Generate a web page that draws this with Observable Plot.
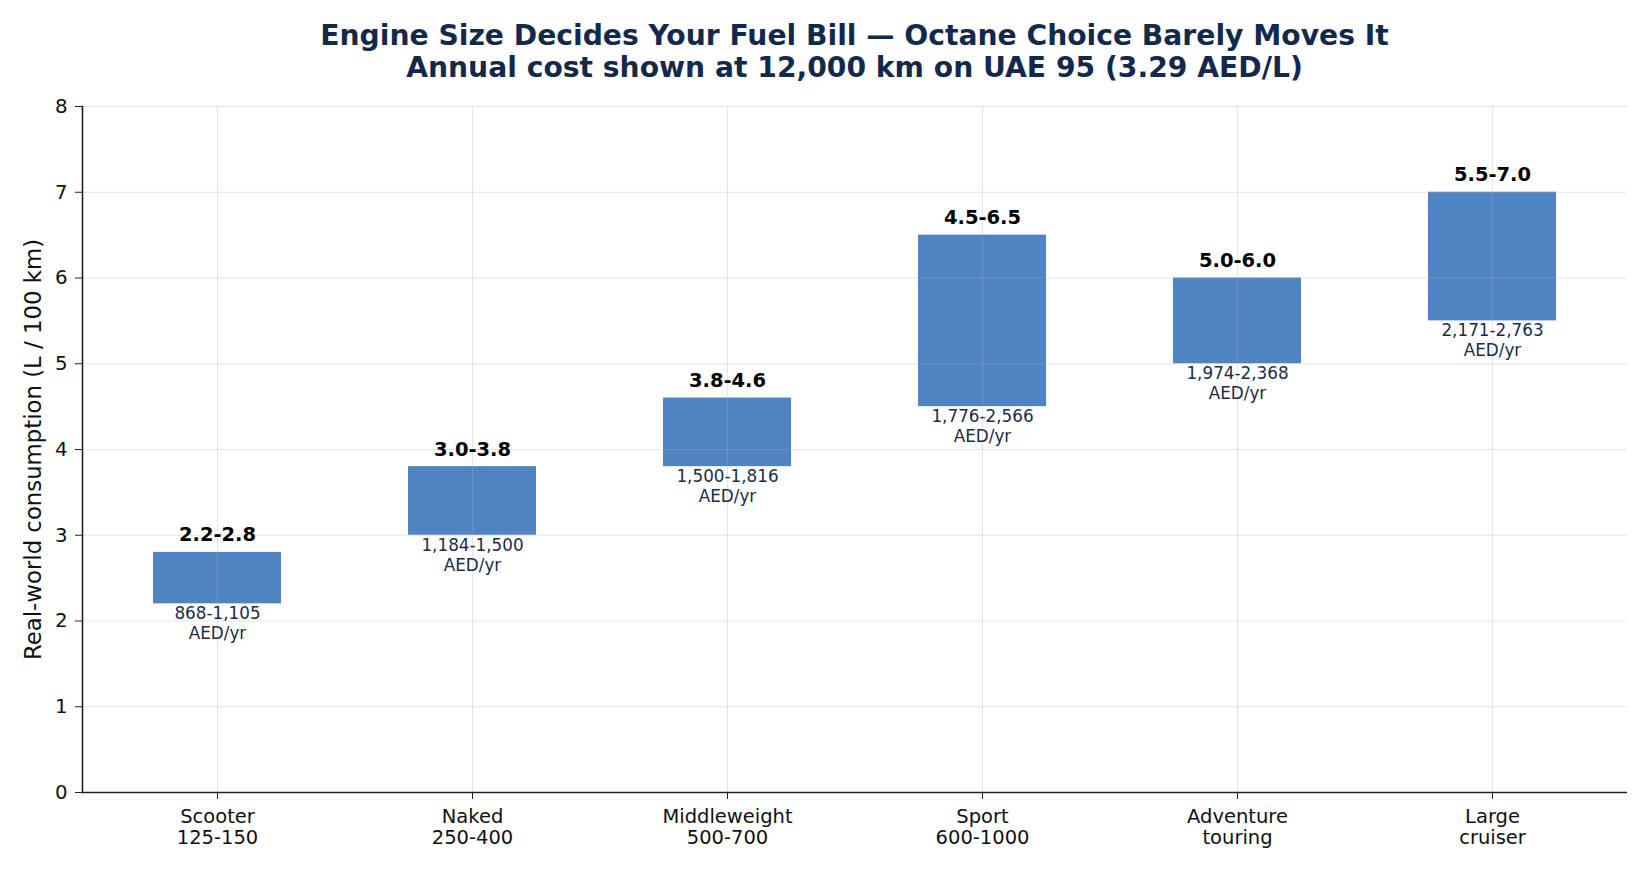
<!DOCTYPE html>
<html><head><meta charset="utf-8">
<script src="https://cdn.jsdelivr.net/npm/d3@7"></script>
<script src="https://cdn.jsdelivr.net/npm/@observablehq/plot@0.6"></script>
<style>
body{margin:0;background:#fff;font-family:"DejaVu Sans",sans-serif}
#title{box-sizing:border-box;width:1545px;margin-left:82px;height:90px;padding-top:20px;text-align:center;font-size:28.2px;font-weight:bold;line-height:32px;color:#13294b}
</style></head><body>
<div id="title"><div>Engine Size Decides Your Fuel Bill — Octane Choice Barely Moves It</div><div>Annual cost shown at 12,000 km on UAE 95 (3.29 AED/L)</div></div>
<div id="chart"></div>
<script>
const categories = ["Scooter\n125-150", "Naked\n250-400", "Middleweight\n500-700", "Sport\n600-1000", "Adventure\ntouring", "Large\ncruiser"];
const lowValues = [2.2, 3.0, 3.8, 4.5, 5.0, 5.5];
const highValues = [2.8, 3.8, 4.6, 6.5, 6.0, 7.0];
const rangeLabels = ["2.2-2.8", "3.0-3.8", "3.8-4.6", "4.5-6.5", "5.0-6.0", "5.5-7.0"];
const costLabels = ["868-1,105", "1,184-1,500", "1,500-1,816", "1,776-2,566", "1,974-2,368", "2,171-2,763"];
const costUnit = "AED/yr";
const yTicks = [0, 1, 2, 3, 4, 5, 6, 7, 8];
const yLabel = "Real-world consumption (L / 100 km)";

const data = categories.map((c, i) => ({
  cat: c, low: lowValues[i], high: highValues[i],
  range: rangeLabels[i], cost: costLabels[i] + "\n" + costUnit
}));

const axisColor = "#222";
const gridStyle = {stroke: "#b0b0b0", strokeOpacity: 0.33, strokeWidth: 1};

const chart = Plot.plot({
  width: 1650, height: 780,
  marginTop: 16, marginBottom: 78, marginLeft: 82, marginRight: 23,
  style: {fontFamily: "DejaVu Sans", background: "#fff", color: "#111"},
  x: {domain: categories, paddingInner: 0.5, paddingOuter: 0.275, axis: null},
  y: {domain: [0, 8], axis: null},
  marks: [
    Plot.barY(data, {x: "cat", y1: "low", y2: "high", fill: "#4f83c2"}),
    Plot.ruleY(yTicks, gridStyle),
    Plot.ruleX(categories, gridStyle),
    Plot.axisY(yTicks, {tickSize: 7, tickPadding: 8, fontSize: 19.8, stroke: axisColor, fill: "#111", label: null, tickFormat: d3.format("d")}),
    Plot.axisX({tickSize: 7, tickPadding: 8, fontSize: 19.5, lineHeight: 1.1, stroke: axisColor, fill: "#111", label: null}),
    Plot.ruleY([0], {stroke: axisColor, strokeWidth: 1.6}),
    Plot.frame({anchor: "left", stroke: axisColor, strokeWidth: 1.6}),
    Plot.text(data, {x: "cat", y: "high", text: "range", lineAnchor: "bottom", dy: -11, fontWeight: "bold", fontSize: 19.5, fill: "#000"}),
    Plot.text(data, {x: "cat", y: "low", text: "cost", lineAnchor: "top", dy: 1, fontSize: 16.8, lineHeight: 1.2, fill: "#1c2b47"}),
    Plot.text([yLabel], {frameAnchor: "left", textAnchor: "middle", lineAnchor: "middle", dx: -49, rotate: -90, fontSize: 22.8, fill: "#111"})
  ]
});
document.getElementById("chart").appendChild(chart);
</script>
</body></html>
